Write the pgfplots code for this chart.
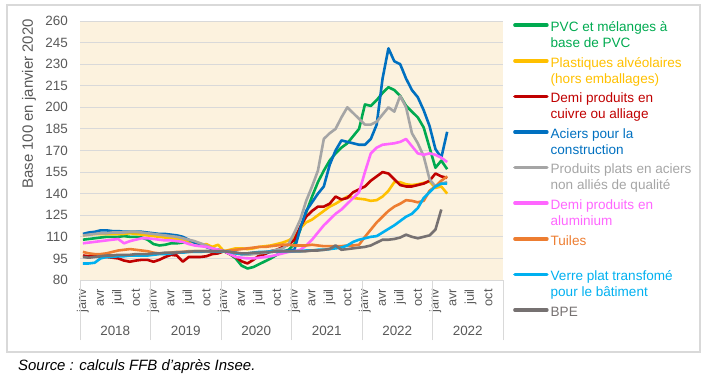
\documentclass[border=0pt]{standalone}
\usepackage{fontspec}
\setmainfont{Liberation Sans}
\usepackage{pgfplots}
\usepackage{pgfplotstable}
\pgfplotsset{compat=1.18}
\definecolor{cpvc}{RGB}{0,170,80}
\definecolor{cplast}{RGB}{255,192,0}
\definecolor{ccuiv}{RGB}{192,0,0}
\definecolor{cacier}{RGB}{0,112,192}
\definecolor{cplat}{RGB}{165,165,165}
\definecolor{calu}{RGB}{255,102,255}
\definecolor{ctuile}{RGB}{237,125,49}
\definecolor{cverre}{RGB}{0,176,240}
\definecolor{cbpe}{RGB}{118,113,113}
\definecolor{bgc}{RGB}{252,242,222}
\definecolor{gridc}{RGB}{217,217,217}
\definecolor{sepc}{RGB}{217,217,217}
\definecolor{framec}{RGB}{217,217,217}
\definecolor{txtc}{RGB}{89,89,89}

\pgfplotstableread{
m pvc plast cuiv acier plat alu tuile verre bpe
0 108 111 97 112 111 105.5 99.5 91.5 96
1 108.5 111.5 96.5 113 111.5 106 98.5 91.5 95.5
2 109 112 96.5 113.5 112 106.5 98 92 96
3 109.5 112 96 114.5 112.5 107 98 95 96.5
4 110 112 96 114.5 112.5 107.5 98.5 96 97
5 110 112 95.5 114 113 108 99.5 96 97
6 110 112 95 114 113 108.5 100.5 96.5 97.5
7 110.5 112 93.5 113.5 113 105.5 101 96.5 97.5
8 110 112.5 92.7 113.5 113.5 107 101.5 97 97.5
9 110 112 93.5 113.5 113.5 108 101 97 98
10 109.5 111.5 94 113.5 113 109 100.5 97 98
11 108 111 94 113 112.5 109 100 97 98
12 105 110.5 92.7 112.5 112 108.5 99 97.5 98.5
13 104 110 94 112 111.5 108 98.5 98 98.5
14 104.5 109.5 96 112 111 107.5 98.5 98 99
15 105.5 109 97.5 111.5 110.5 107.5 99 98.5 99
16 105.5 108.5 97 111 110 107 99.5 99 99
17 106 108 92.7 110 109 106.5 99.5 99 99.5
18 107 107 96 108 108 105 100 99.5 99.5
19 106.5 106 96 106 107 104 100 99.5 100
20 104.5 104 96 105 105.5 103.5 100 99.5 100
21 103 105 96.5 103 104 103 100 100 100
22 102 103 98 101.5 102 102 100 100 100
23 101 104.5 98.5 101 101 101 100 99.5 100
24 100 100 100 100 100 100 100 100 100
25 98 101 98 99.5 99 98 100.5 99.5 99.5
26 95 102 96 99 98.5 96 101 98.5 99
27 90 102 93 98 98 95.5 101.5 98 98.5
28 88 101.5 91.5 98 97.5 95 102 98.5 98.5
29 89 102 94 98.5 98 95 102.5 99 99
30 91 103 97 99 98.5 95.5 103 99.5 99
31 93 103.5 98 99 99 96 103 99.5 99.5
32 95 104 100 99.5 100 96.5 103.5 100 99.5
33 97.5 105 101 100 101 97.5 104 100 100
34 99.5 106 103 100 102 98.5 104.5 100 100
35 101 107.5 104.5 100.5 105 99.5 104.5 100 100
36 105 110 108 101 113 100 104 100 100
37 115 116 117 116 122 101 104 100 100
38 127 120 124 128 135 104 104 100.5 100
39 138 122 128 134 145 108 104.5 100.5 100.5
40 148 125 131 140 156 113 104 101 100.5
41 156 128 131 145 178 118 103.5 101 101
42 163 131 133 160 182 122 103.5 101.5 101.5
43 168 133 138 170 185 126 103.5 102 104
44 172 135.5 136 177 193 129 103.5 102.5 101
45 175 138 137 176 200 133 104 104 101.5
46 180 137 141 175 196 137 104 106.5 102
47 185 136.5 143 174 192 141 104.5 108 102.5
48 202 136 145 174 188 155 110 109 103
49 201 135 149 178 188 168 115 110 104
50 205 135.5 152 188 190 172 120 110.5 106
51 210 138 155 220 195 174 124 113 108
52 214 142 154 241 200 174.5 128 115.5 108
53 212 148 150 232 197 175 131 118 108.5
54 208 148 146 230 208 176 133 121 109.5
55 201 146.5 145 220 200 178 135.5 124 111.5
56 197 146 145 212 182 173 135 126 110
57 193 146.5 146 207 175 168 134 130 109
58 186 147.5 147 198 166 167 135 137 110
59 172 148.5 149 187 150 168 142 141 111
60 158 144 154 171 145 167 145 145 115
61 163 145 152 165 147 165 149 147 129
62 157 140 151 183 148 162 152 147 nan
}\datatable

\begin{document}
\begin{tikzpicture}
\useasboundingbox (0,0) rectangle (717bp,383bp);
\draw[framec, line width=1.2bp] (7bp,31bp) rectangle (700bp,378bp);
\begin{axis}[
  at={(80bp,103bp)}, anchor=south west,
  scale only axis, width=423bp, height=259bp,
  xmin=-0.5, xmax=71.5, ymin=80, ymax=260,
  clip mode=individual,
  axis background/.style={fill=bgc},
  axis line style={draw=none},
  ytick={80,95,...,260},
  xtick={0,3,...,69},
  xticklabels={janv,avr,juil,oct,janv,avr,juil,oct,janv,avr,juil,oct,janv,avr,juil,oct,janv,avr,juil,oct,janv,avr,juil,oct},
  xtick pos=left, ytick pos=left,
  major tick length=0pt,
  ymajorgrids,
  major grid style={draw=gridc, line width=0.9bp},
  /pgf/number format/assume math mode=true,
  yticklabel style={font=\fontsize{13.5}{16}\selectfont, inner sep=0pt, text=txtc},
  yticklabel shift=12bp,
  xticklabel style={font=\fontsize{12.8}{15}\selectfont, rotate=90, anchor=east, inner sep=0pt, text=txtc},
  xticklabel shift=9bp,
  extra x ticks={-0.5,11.5,23.5,35.5,47.5,59.5,71.5},
  extra x tick labels={,,,,,,},
  extra x tick style={major tick length=60bp, tick align=outside, grid=none, tick style={draw=sepc, line width=0.9bp}},
  ylabel={Base 100 en janvier 2020},
  ylabel style={at={(axis description cs:-0.1206,1.008)}, anchor=east, inner sep=0pt, text=txtc, font=\fontsize{15}{18}\selectfont},
  legend image code/.code={\path[draw=none,fill=none] (0bp,-9.5bp) rectangle (32bp,9.5bp); \draw[#1, line width=3.5bp, line cap=round] (0bp,9.5bp) -- (32bp,9.5bp);},
  legend style={at={(axis description cs:1.0236,1.003)}, anchor=north west, draw=none, fill=none, inner sep=0pt, row sep=7bp, column sep=2bp, font=\fontsize{13.6}{16}\selectfont, nodes={inner sep=0pt, align=left}, cells={anchor=west}},
  every axis plot/.append style={line width=2.6bp, line join=round},
]
\addplot[cpvc] table[x=m,y=pvc]{\datatable};
\addlegendentry[text=cpvc]{\strut PVC et mélanges à\\base de PVC\strut}
\addplot[cplast] table[x=m,y=plast]{\datatable};
\addlegendentry[text=cplast]{\strut Plastiques alvéolaires\\(hors emballages)\strut}
\addplot[ccuiv] table[x=m,y=cuiv]{\datatable};
\addlegendentry[text=ccuiv]{\strut Demi produits en\\cuivre ou alliage\strut}
\addplot[cacier] table[x=m,y=acier]{\datatable};
\addlegendentry[text=cacier]{\strut Aciers pour la\\construction\strut}
\addplot[cplat] table[x=m,y=plat]{\datatable};
\addlegendentry[text=cplat]{\strut Produits plats en aciers\\non alliés de qualité\strut}
\addplot[calu] table[x=m,y=alu]{\datatable};
\addlegendentry[text=calu]{\strut Demi produits en\\aluminium\strut}
\addplot[ctuile] table[x=m,y=tuile]{\datatable};
\addlegendentry[text=ctuile]{\strut Tuiles\\\strut}
\addplot[cverre] table[x=m,y=verre]{\datatable};
\addlegendentry[text=cverre]{\strut Verre plat transfomé\\pour le bâtiment\strut}
\addplot[cbpe] table[x=m,y=bpe]{\datatable};
\addlegendentry[text=cbpe]{\strut BPE\\\strut}
\foreach \xx/\yy in {5.5/2018,17.5/2019,29.5/2020,41.5/2021,53.5/2022,65.5/2022}{
  \edef\temp{\noexpand\node[font=\noexpand\fontsize{13.5}{16}\noexpand\selectfont, text=txtc, anchor=center] at (axis cs:\xx,80) [yshift=-51bp] {\yy};}
  \temp
}
\end{axis}
\node[anchor=west, inner sep=0pt, font=\itshape\fontsize{15}{18}\selectfont] at (18bp,16bp) {Source : calculs FFB d’après Insee.};
\end{tikzpicture}
\end{document}
